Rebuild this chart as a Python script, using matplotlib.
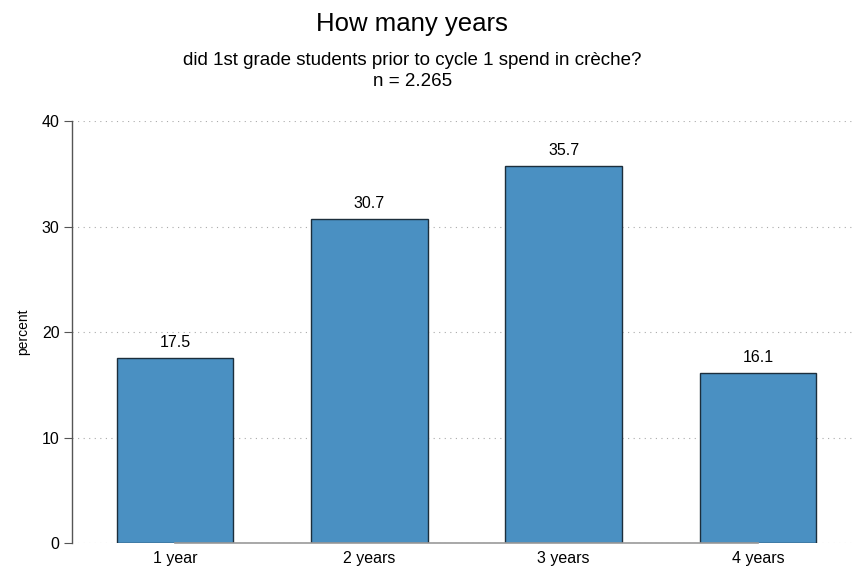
import matplotlib.pyplot as plt
import numpy as np

plt.rcParams['font.family'] = ['Liberation Sans', 'DejaVu Sans']

categories = ['1 year', '2 years', '3 years', '4 years']
percent = [17.5, 30.7, 35.7, 16.1]
yticks = [0, 10, 20, 30, 40]

fig = plt.figure(figsize=(8.57, 5.67), dpi=100)
ax = fig.add_axes([0.084, 0.0423, 0.914, 0.7443])

x = np.arange(len(categories))
bars = ax.bar(x, percent, width=0.6, color='#4a90c2', edgecolor='#1c2e3c', linewidth=1.0, zorder=3)
for b, v in zip(bars, percent):
    ax.text(b.get_x() + b.get_width() / 2, v + 0.8, f'{v:.1f}', ha='center', va='bottom', fontsize=11.5)

ax.set_xlim(-0.53, 3.50)
ax.set_ylim(0, 40)
ax.set_yticks(yticks)
ax.set_xticks(x)
ax.set_xticklabels(categories, fontsize=11.5)
ax.tick_params(axis='y', labelsize=11.5, length=6, width=0.8, color='#555555', pad=3)
ax.tick_params(axis='x', length=0, pad=6)
ax.grid(axis='y', linestyle=(0, (1, 4)), color='#aaaaaa', linewidth=0.8, zorder=0)

for s in ['top', 'right', 'bottom']:
    ax.spines[s].set_visible(False)
ax.spines['left'].set_color('#555555')
ax.spines['left'].set_linewidth(1.0)
ax.plot([x[0], x[-1]], [0, 0], color='#999999', linewidth=1.2, zorder=4, clip_on=False)

ax.set_ylabel('percent', fontsize=10, labelpad=8)

fig.text(0.481, 0.958, 'How many years', ha='center', va='center', fontsize=18.5)
fig.text(0.481, 0.893, 'did 1st grade students prior to cycle 1 spend in crèche?', ha='center', va='center', fontsize=13.5)
fig.text(0.481, 0.857, 'n = 2.265', ha='center', va='center', fontsize=13.5)

fig.savefig('out.png', dpi=100)
